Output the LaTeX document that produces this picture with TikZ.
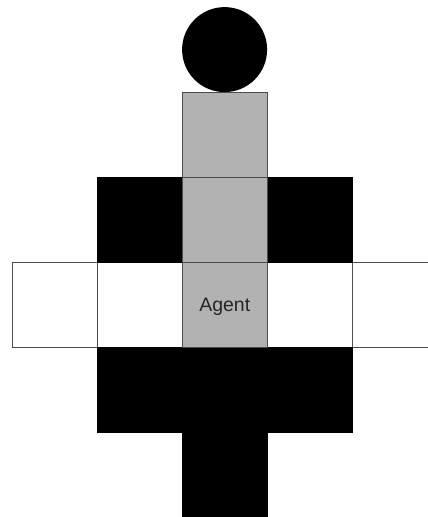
\documentclass[tikz,border=0pt]{standalone}
\usepackage{fontspec}
\setsansfont{Liberation Sans}
\begin{document}
\begin{tikzpicture}[x=1pt,y=-1pt,
  cell/.style={draw=black!70,line width=1.1pt,minimum width=84.9pt,minimum height=84.9pt,inner sep=0pt,outer sep=0pt},
  blk/.style={cell,fill=black,draw=black},
  gry/.style={cell,fill=black!30},
  wht/.style={cell,fill=white},
  lbl/.style={font=\sffamily\fontsize{19.5}{22}\selectfont,text=black!85}]
\useasboundingbox (0,0) rectangle (428,517);
\begin{scope}
\clip (0,0) rectangle (428,517);
% row 2 (white band)
\node[wht] (w0) at (54.95,304.75) {};
\node[wht] (w1) at (139.85,304.75) {};
\node[wht] (w3) at (309.65,304.75) {};
\node[wht] (w4) at (394.55,304.75) {};
% row 1
\node[blk] (b1l) at (139.85,219.85) {};
\node[blk] (b1r) at (309.65,219.85) {};
% row 3
\node[blk] (b3l) at (139.85,389.65) {};
\node[blk] (b3c) at (224.75,389.65) {};
\node[blk] (b3r) at (309.65,389.65) {};
% row 4
\node[blk] (b4) at (224.75,474.55) {};
% gray column
\node[gry] (g0) at (224.75,134.95) {};
\node[gry] (g1) at (224.75,219.85) {};
\node[gry,lbl,text depth=1pt] (agent) at (224.75,304.75) {};
\node[lbl] (agenttext) at (224.75,306.5) {Agent};
% head
\node[circle,fill=black,draw=none,minimum size=85pt,inner sep=0pt] (head) at (224.6,49.6) {};
\end{scope}
\end{tikzpicture}
\end{document}
